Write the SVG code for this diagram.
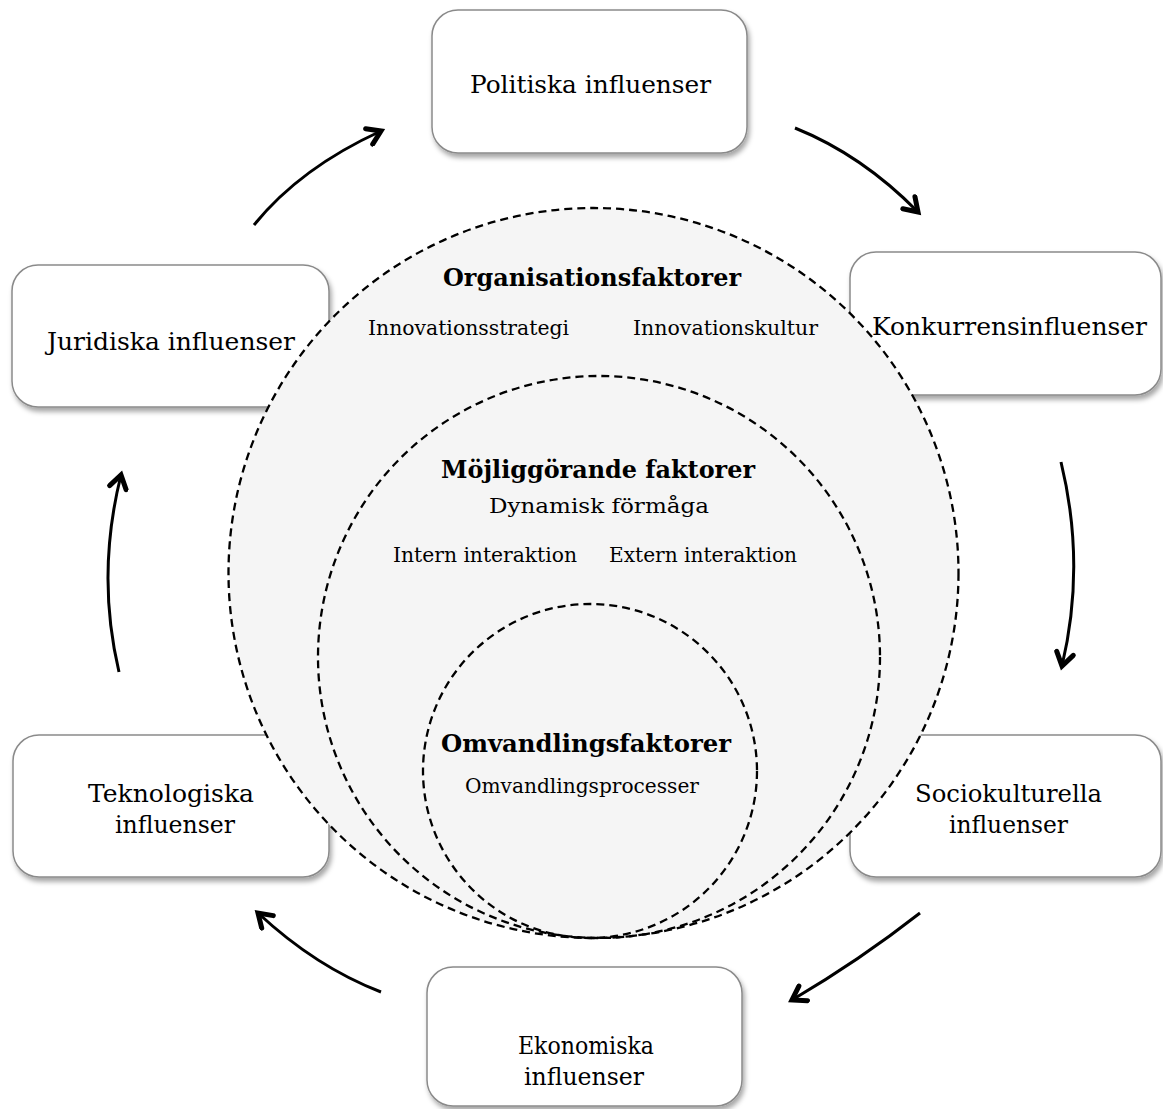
<svg xmlns="http://www.w3.org/2000/svg" width="1163" height="1109" viewBox="0 0 1163 1109">
<defs>
<filter id="sh" x="-10%" y="-10%" width="130%" height="140%">
<feDropShadow dx="2" dy="4" stdDeviation="2.5" flood-color="#000" flood-opacity="0.35"/>
</filter>
<marker id="ah" viewBox="0 0 22 22" refX="17" refY="11" markerWidth="22" markerHeight="22" markerUnits="userSpaceOnUse" orient="auto">
<path d="M4,2.5 L17,11 L4,19.5" fill="none" stroke="#000" stroke-width="5" stroke-linecap="round" stroke-linejoin="miter"/>
</marker>
</defs>
<style>
.box{fill:#fff;stroke:#8a8a8a;stroke-width:1.5;filter:url(#sh)}
.t{font-family:"DejaVu Serif","Liberation Serif",serif;fill:#000;text-anchor:middle}
.bt{font-size:24px}
.st{font-size:20px}
.hd{font-size:25px;font-weight:bold}
.c{fill:none;stroke:#000;stroke-width:2.3;stroke-dasharray:8 5}
.a{fill:none;stroke:#000;stroke-width:3;marker-end:url(#ah)}
</style>
<rect width="1163" height="1109" fill="#fff"/>
<g id="boxes">
<rect id="b-pol" class="box" x="432" y="10" width="315" height="143" rx="26"/>
<rect id="b-jur" class="box" x="12" y="265" width="317" height="142" rx="26"/>
<rect id="b-kon" class="box" x="850" y="252" width="311" height="143" rx="26"/>
<rect id="b-tek" class="box" x="13" y="735" width="316" height="142" rx="26"/>
<rect id="b-soc" class="box" x="850" y="735" width="311" height="142" rx="26"/>
<rect id="b-eko" class="box" x="427" y="967" width="315" height="139" rx="26"/>
</g>
<g id="circles">
<circle id="c-org" cx="593.5" cy="573" r="365" fill="#f5f5f5" stroke="#000" stroke-width="2.3" stroke-dasharray="8 5"/>
<circle id="c-moj" class="c" cx="599" cy="657" r="281"/>
<circle id="c-omv" class="c" cx="590" cy="771" r="167"/>
</g>
<g id="connectors">
<path class="a" d="M254,225 Q300,168 381,131"/>
<path class="a" d="M795,128 Q862,155 918,212"/>
<path class="a" d="M1061,462 Q1086,565 1062,666"/>
<path class="a" d="M920,913 Q860,960 792,1000"/>
<path class="a" d="M381,992 Q316,967 258,913"/>
<path class="a" d="M119,672 Q96,575 121,475"/>
</g>
<g id="labels">
<text class="t bt" x="590.5" y="93" textLength="241" lengthAdjust="spacingAndGlyphs">Politiska influenser</text>
<text class="t bt" x="171" y="350" textLength="248" lengthAdjust="spacingAndGlyphs">Juridiska influenser</text>
<text class="t bt" x="1009.5" y="335" textLength="275" lengthAdjust="spacingAndGlyphs">Konkurrensinfluenser</text>
<text class="t bt" x="171" y="802" textLength="166" lengthAdjust="spacingAndGlyphs">Teknologiska</text>
<text class="t bt" x="175" y="833" textLength="120" lengthAdjust="spacingAndGlyphs">influenser</text>
<text class="t bt" x="1008.5" y="802" textLength="187" lengthAdjust="spacingAndGlyphs">Sociokulturella</text>
<text class="t bt" x="1008.5" y="833" textLength="119" lengthAdjust="spacingAndGlyphs">influenser</text>
<text class="t bt" x="586" y="1054" textLength="136" lengthAdjust="spacingAndGlyphs">Ekonomiska</text>
<text class="t bt" x="584" y="1085" textLength="120" lengthAdjust="spacingAndGlyphs">influenser</text>
<text class="t hd" x="592" y="286" textLength="298" lengthAdjust="spacingAndGlyphs">Organisationsfaktorer</text>
<text class="t st" x="468.5" y="335" textLength="201" lengthAdjust="spacingAndGlyphs">Innovationsstrategi</text>
<text class="t st" x="725.5" y="335" textLength="185" lengthAdjust="spacingAndGlyphs">Innovationskultur</text>
<text class="t hd" x="598" y="478" textLength="314" lengthAdjust="spacingAndGlyphs">Möjliggörande faktorer</text>
<text class="t st" x="599" y="513" textLength="220" lengthAdjust="spacingAndGlyphs">Dynamisk förmåga</text>
<text class="t st" x="485" y="562" textLength="184" lengthAdjust="spacingAndGlyphs">Intern interaktion</text>
<text class="t st" x="703" y="562" textLength="188" lengthAdjust="spacingAndGlyphs">Extern interaktion</text>
<text class="t hd" x="586" y="752" textLength="290" lengthAdjust="spacingAndGlyphs">Omvandlingsfaktorer</text>
<text class="t st" x="582" y="793" textLength="234" lengthAdjust="spacingAndGlyphs">Omvandlingsprocesser</text>
</g>
</svg>
